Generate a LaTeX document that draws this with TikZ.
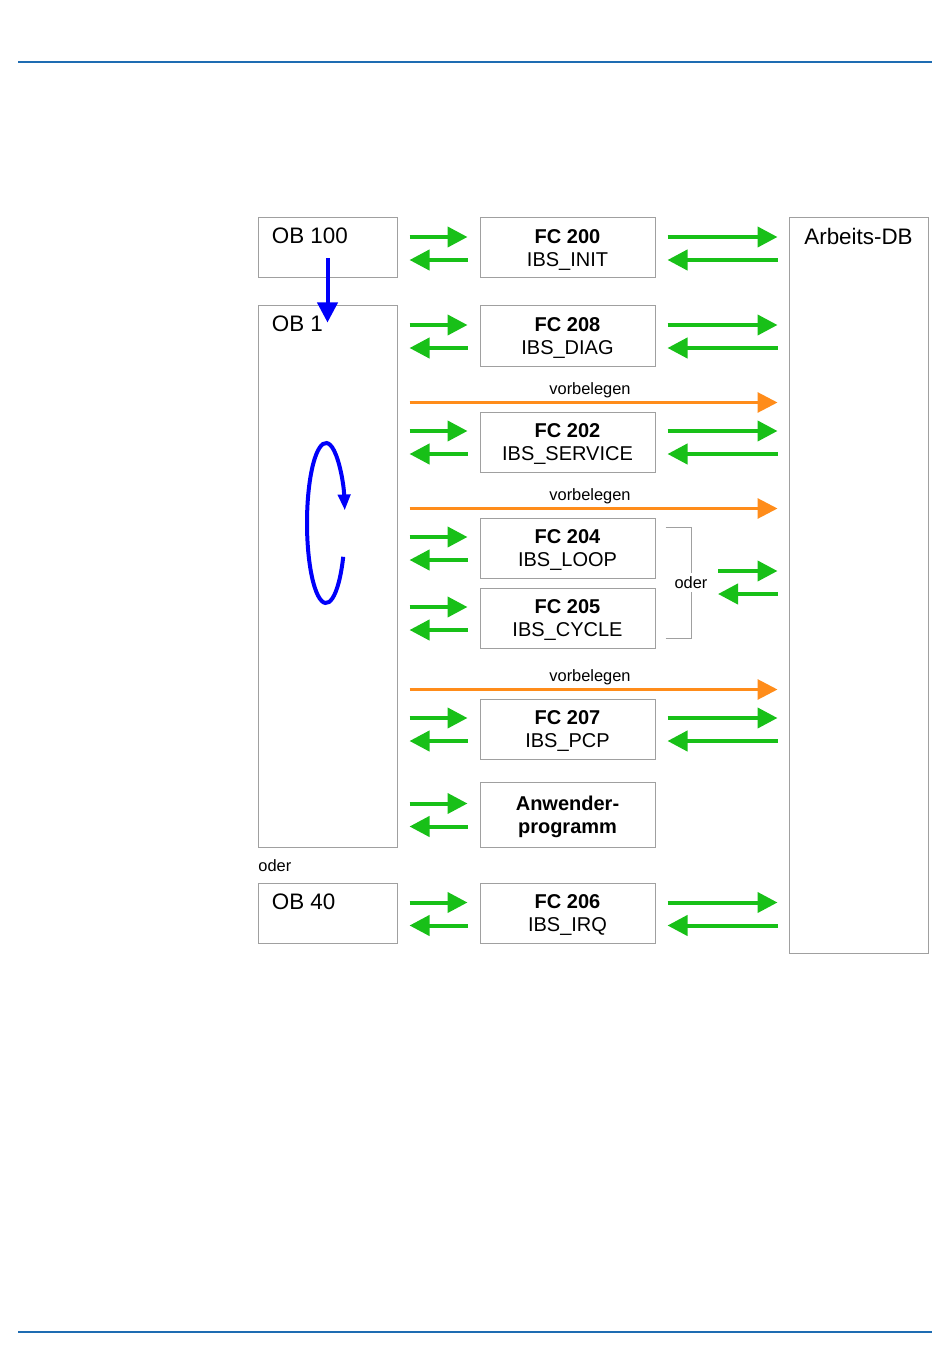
\documentclass[tikz,border=0pt]{standalone}
\usepackage{fontspec}
\setmainfont{Liberation Sans}
\usetikzlibrary{arrows.meta}
\definecolor{grn}{RGB}{24,192,24}
\definecolor{ora}{RGB}{255,140,26}
\definecolor{blu}{RGB}{0,0,250}
\definecolor{rul}{RGB}{30,108,178}
\definecolor{boxgray}{RGB}{160,160,160}
\tikzset{
  blk/.style  ={draw=boxgray, line width=0.5pt, inner sep=0pt},
  ob/.style   ={blk, minimum width=69.5pt, minimum height=30pt},
  fc/.style   ={blk, minimum width=87.5pt, minimum height=30pt, align=center, text depth=0pt, font=\fontsize{10}{11.5}\selectfont},
  obl/.style  ={anchor=north west, inner sep=0pt, xshift=7pt, yshift=-5pt, font=\fontsize{11.2}{13}\selectfont},
  sm/.style   ={inner sep=1.5pt, font=\fontsize{8.2}{10}\selectfont},
  gto/.style  ={draw=grn, line width=2pt, -{Triangle[length=10pt,width=10pt]}},
  vor/.style  ={draw=ora, line width=1.5pt, -{Triangle[length=10pt,width=10pt]}, shorten <=6pt, shorten >=5.5pt},
  blu/.style  ={draw=blu, line width=2pt},
  brk/.style  ={draw=boxgray, line width=0.5pt},
  rule/.style ={draw=rul, line width=1pt}
}
% arrow pairs left and right of a FC block
\newcommand\pairL[1]{
  \path ([yshift=5.5pt]#1.center) coordinate (#1u) ([yshift=-6pt]#1.center) coordinate (#1d);
  \draw[gto, shorten <=6pt, shorten >=6pt] (ob1.east |- #1u) -- (#1.west |- #1u);
  \draw[gto, shorten <=6pt, shorten >=6pt] (#1.west |- #1d) -- (ob1.east |- #1d);
}
\newcommand\pairR[1]{
  \draw[gto, shorten <=6pt, shorten >=5.5pt] (#1.east |- #1u) -- (db.west |- #1u);
  \draw[gto, shorten <=5.5pt, shorten >=6pt] (db.west |- #1d) -- (#1.east |- #1d);
}

\begin{document}
\begin{tikzpicture}[x=0.5pt, y=-0.5pt]
\useasboundingbox (0,0) rectangle (950,1369);
\draw[rule] (18,62) -- (932,62);
\draw[rule] (18,1332) -- (932,1332);

% organisation blocks
\node[ob, label={[obl]north west:OB 100}] (ob100) at (327.5,248) {};
\node[ob, minimum height=270.5pt, label={[obl]north west:OB 1}] (ob1) at (327.5,576.5) {};
\node[ob, label={[obl]north west:OB 40}] (ob40) at (327.5,913.5) {};
\node[sm, anchor=west, inner sep=0pt] (oder2) at (258,866) {oder};
\node[blk, minimum width=69.5pt, minimum height=367.5pt,
      label={[obl, anchor=north, xshift=-7pt]north:Arbeits-DB}] (db) at (858.5,585.5) {};

% function blocks
\node[fc] (fc200) at (567.5,248) {\textbf{FC 200}\\IBS\_INIT};
\node[fc] (fc208) at (567.5,336) {\textbf{FC 208}\\IBS\_DIAG};
\node[fc] (fc202) at (567.5,442) {\textbf{FC 202}\\IBS\_SERVICE};
\node[fc] (fc204) at (567.5,548) {\textbf{FC 204}\\IBS\_LOOP};
\node[fc] (fc205) at (567.5,618) {\textbf{FC 205}\\IBS\_CYCLE};
\node[fc] (fc207) at (567.5,729) {\textbf{FC 207}\\IBS\_PCP};
\node[fc, minimum height=32.5pt, font=\fontsize{10}{11.5}\selectfont\bfseries] (anw) at (567.5,814.5) {Anwender-\\programm};
\node[fc] (fc206) at (567.5,913.5) {\textbf{FC 206}\\IBS\_IRQ};

\foreach \f in {fc200,fc208,fc202,fc204,fc205,fc207,anw,fc206} {\pairL{\f}}
\foreach \f in {fc200,fc208,fc202,fc207,fc206} {\pairR{\f}}

% oder bracket
\node[sm, fill=white] (oder) at (691,582.5) {oder};
\draw[brk] ([shift={(10,10)}]fc204.north east) -| (oder.north);
\draw[brk] ([shift={(10,-10)}]fc205.south east) -| (oder.south);
\path ([yshift=5.75pt]oder.center) coordinate (ou) ([yshift=-5.75pt]oder.center) coordinate (od);
\draw[gto, shorten >=5.5pt] ([xshift=13.5pt]ou) -- (db.west |- ou);
\draw[gto, shorten <=5.5pt] (db.west |- od) -- ([xshift=13.5pt]od);

% vorbelegen
\foreach \f/\v in {fc202/v1,fc204/v2,fc207/v3} {
  \path ([yshift=4.5pt]\f.north) coordinate (\v);
  \draw[vor] (ob1.east |- \v) -- (db.west |- \v) node[sm, midway, above, xshift=-1.5pt] {vorbelegen};
}

% OB 100 -> OB 1 and cycle
\draw[blu, -{Triangle[length=10pt,width=10pt]}] ([yshift=10pt]ob100.south) -- ([yshift=-8.5pt]ob1.north);
\coordinate (cyc) at (326,523);
\draw[blu, -{Triangle[length=8pt,width=6pt]}] (cyc) ++(-25:9.5pt and 40pt)
  arc[start angle=-25, end angle=-351, x radius=9.5pt, y radius=40pt];
\end{tikzpicture}
\end{document}
